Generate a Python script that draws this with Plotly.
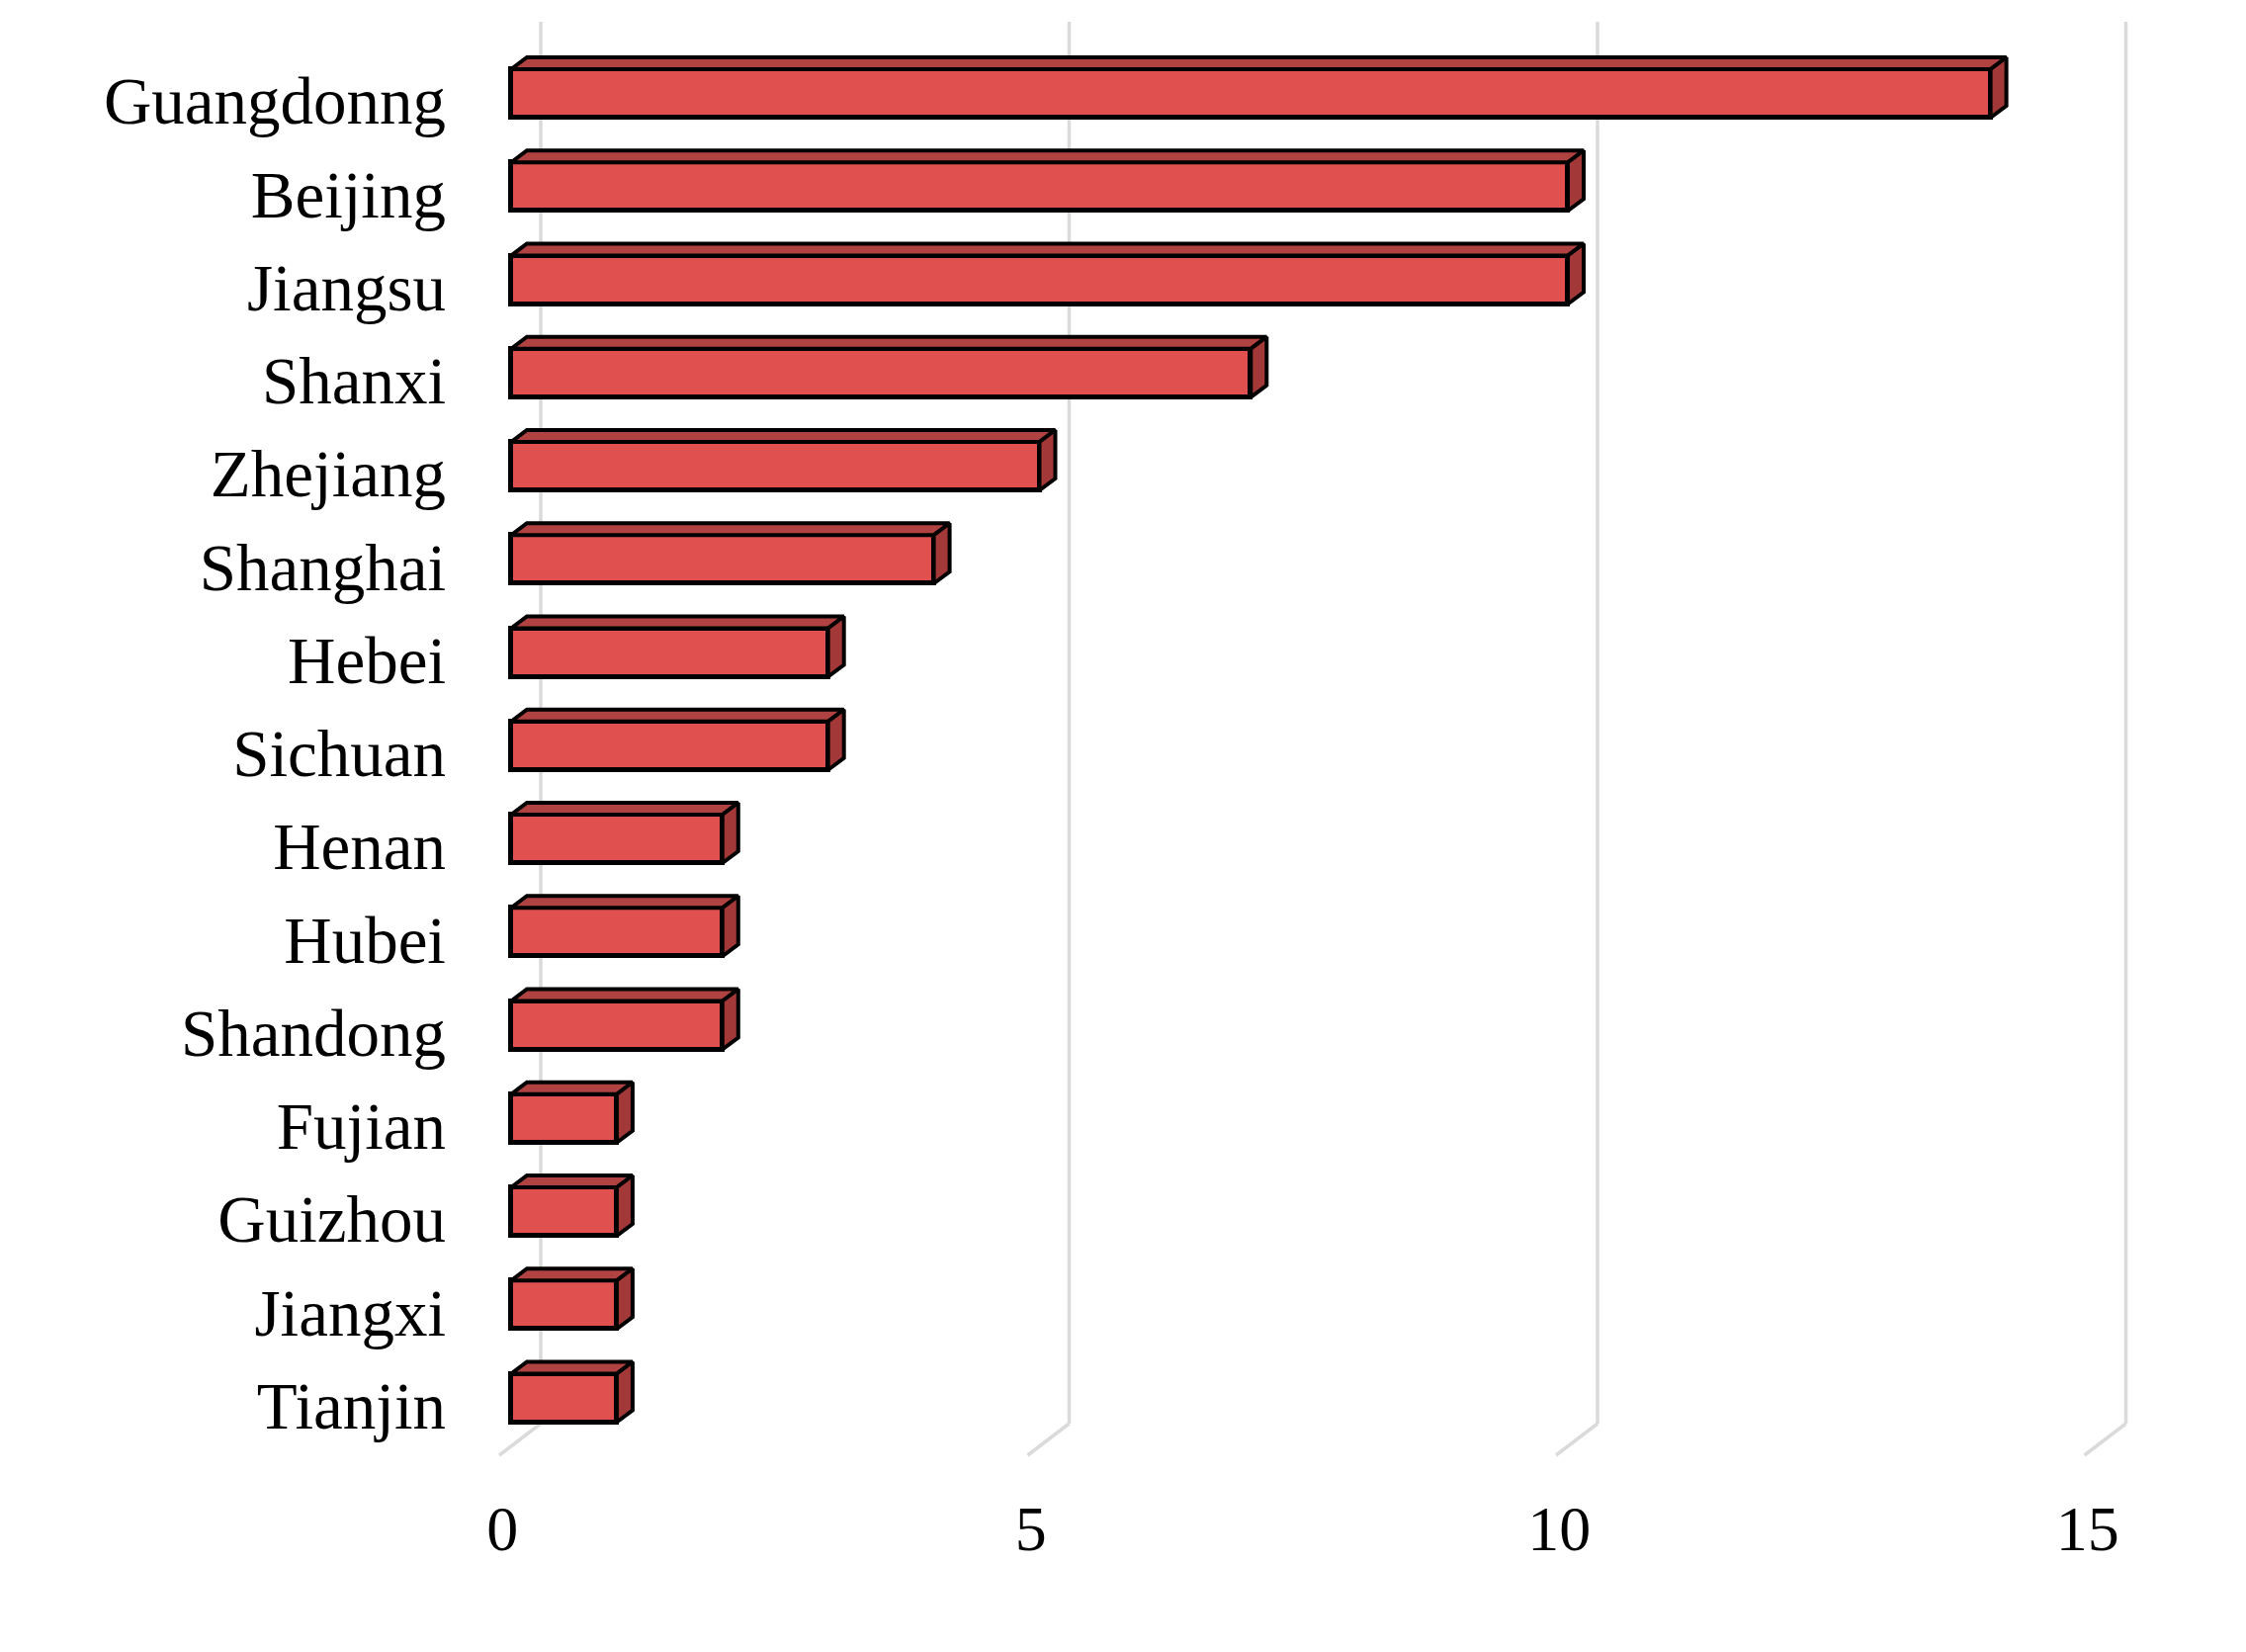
import plotly.graph_objects as go

# ---- data ----
provinces = ["Guangdonng", "Beijing", "Jiangsu", "Shanxi", "Zhejiang", "Shanghai", "Hebei",
             "Sichuan", "Henan", "Hubei", "Shandong", "Fujian", "Guizhou", "Jiangxi", "Tianjin"]
counts = [14, 10, 10, 7, 5, 4, 3, 3, 2, 2, 2, 1, 1, 1, 1]
x_ticks = [0, 5, 10, 15]
x_tick_labels = ["0", "5", "10", "15"]

# ---- layout geometry (pixels, figure coords; page has 8px body margin) ----
OFF = 8
W, H = 2272, 1671
PL, PR, PT, PB = 470, 2250, 4, 1495       # plot area
X0_PX, UNIT_PX = 517 - OFF, 106.9         # bar base position and px per unit
Y0_PX, CAT_PX = 94.5 - OFF, 94.25         # first category centre and spacing

def px2x(p):
    return (p - X0_PX) / UNIT_PX

def py2y(p):
    return (p - Y0_PX) / CAT_PX

xr = [px2x(PL), px2x(PR)]
yr = [py2y(PB), py2y(PT)]                 # reversed

BAR_H = 0.52
DDX = 16 / UNIT_PX                        # bar depth offsets
DDY = -12 / CAT_PX
WALL_DX = 30 / UNIT_PX
FLOOR_DX = -12 / UNIT_PX
WALL_TOP = py2y(22 - OFF)
WALL_BOT = py2y(1440 - OFF)
FLOOR_Y = py2y(1472 - OFF)

FRONT = "#E0504E"
TOP = "#B04242"
SIDE = "#A33838"
EDGE = "#000000"
GRID = "#DADADA"
FONT = "Liberation Serif, Times New Roman, serif"
LW = 5

fig = go.Figure()

ypos = list(range(len(provinces)))

# front faces
fig.add_trace(go.Bar(
    x=counts, y=ypos, orientation="h", width=BAR_H,
    marker=dict(color=FRONT, line=dict(color=EDGE, width=LW)),
    hoverinfo="skip", showlegend=False,
))

# top and side faces
for yi, v in zip(ypos, counts):
    yt = yi - BAR_H / 2
    yb = yi + BAR_H / 2
    fig.add_trace(go.Scatter(
        x=[0, v, v + DDX, DDX, 0], y=[yt, yt, yt + DDY, yt + DDY, yt],
        fill="toself", fillcolor=TOP, mode="lines",
        line=dict(color=EDGE, width=LW - 1), hoverinfo="skip", showlegend=False,
    ))
    fig.add_trace(go.Scatter(
        x=[v, v + DDX, v + DDX, v, v], y=[yt, yt + DDY, yb + DDY, yb, yt],
        fill="toself", fillcolor=SIDE, mode="lines",
        line=dict(color=EDGE, width=LW - 1), hoverinfo="skip", showlegend=False,
    ))

# wall gridlines + floor lines
shapes = []
for t in x_ticks:
    shapes.append(dict(type="line", xref="x", yref="y", layer="below",
                       x0=t + WALL_DX, x1=t + WALL_DX, y0=WALL_TOP, y1=WALL_BOT,
                       line=dict(color=GRID, width=3.5)))
    shapes.append(dict(type="line", xref="x", yref="y", layer="below",
                       x0=t + WALL_DX, x1=t + FLOOR_DX, y0=WALL_BOT, y1=FLOOR_Y,
                       line=dict(color=GRID, width=3.5)))

fig.update_layout(
    template="none",
    width=W, height=H,
    margin=dict(l=PL, r=W - PR, t=PT, b=H - PB, pad=0, autoexpand=False),
    paper_bgcolor="white", plot_bgcolor="white",
    shapes=shapes,
    font=dict(family=FONT, size=67, color="black"),
    xaxis=dict(range=xr, showgrid=False, zeroline=False, showline=False, automargin=False,
               tickvals=[t + FLOOR_DX + 0.03 for t in x_ticks], ticktext=x_tick_labels,
               ticks="", tickfont=dict(size=64), ticklabelstandoff=0),
    yaxis=dict(range=yr, showgrid=False, zeroline=False, showline=False, automargin=False,
               tickvals=[y + 0.08 for y in ypos], ticktext=provinces,
               ticks="", tickfont=dict(size=67), ticklabelstandoff=26),
    bargap=0,
)

fig.write_html("out.html")
